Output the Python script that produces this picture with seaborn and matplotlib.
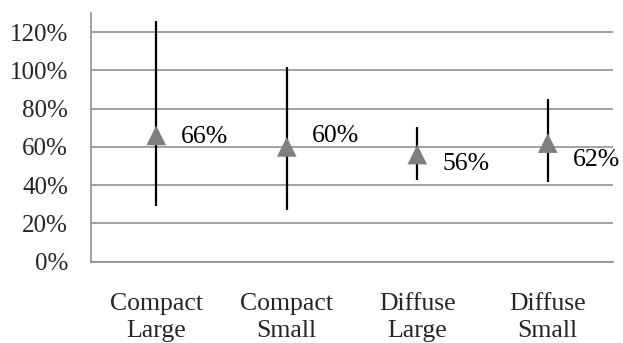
import matplotlib
matplotlib.use("Agg")
import matplotlib.pyplot as plt
import seaborn as sns
import pandas as pd

categories = ["Compact\nLarge", "Compact\nSmall", "Diffuse\nLarge", "Diffuse\nSmall"]
means = [0.66, 0.60, 0.56, 0.62]
lower = [0.29, 0.27, 0.426, 0.414]
upper = [1.26, 1.02, 0.705, 0.85]
value_labels = ["66%", "60%", "56%", "62%"]
y_ticks = [0.0, 0.2, 0.4, 0.6, 0.8, 1.0, 1.2]
y_tick_labels = ["0%", "20%", "40%", "60%", "80%", "100%", "120%"]

# label vertical offsets (points) as placed in the original
label_dy = [-1.4, 8, -7, -12]

sns.set_theme(style="white")
plt.rcParams["font.family"] = ["Liberation Serif", "DejaVu Serif"]

df = pd.DataFrame({"cat": categories, "mean": means, "lo": lower, "hi": upper})

fig = plt.figure(figsize=(6.23, 3.43), dpi=100)
ax = fig.add_axes([91 / 623, 81.3 / 343, 522 / 623, 248.7 / 343])

xpos = list(range(len(categories)))
ax.vlines(xpos, df["lo"], df["hi"], color="black", linewidth=1.6, zorder=3)
sns.scatterplot(data=df, x="cat", y="mean", marker="^", s=200, color="#7f7f7f",
                edgecolor="none", linewidth=0, ax=ax, zorder=4)

for i, (m, lab, dy) in enumerate(zip(means, value_labels, label_dy)):
    ax.annotate(lab, xy=(i, m), xytext=(18, dy), textcoords="offset points",
                ha="left", va="center", fontsize=18.5, color="black")

ax.set_xlim(-0.5, 3.5)
ax.set_ylim(0, 1.3)
ax.set_yticks(y_ticks)
ax.set_yticklabels(y_tick_labels, fontsize=18)
ax.set_xticks(xpos)
ax.set_xticklabels(categories, fontsize=18.5, linespacing=1.3)
ax.tick_params(axis="y", length=0, pad=16.5)
ax.tick_params(axis="x", length=0, pad=22.5)
ax.set_xlabel("")
ax.set_ylabel("")
ax.grid(axis="y", color="#888888", linewidth=1.1)
ax.grid(axis="x", visible=False)
for s in ["top", "right"]:
    ax.spines[s].set_visible(False)
for s in ["left", "bottom"]:
    ax.spines[s].set_color("#888888")
    ax.spines[s].set_linewidth(1.1)

fig.savefig("out.png", dpi=100)
